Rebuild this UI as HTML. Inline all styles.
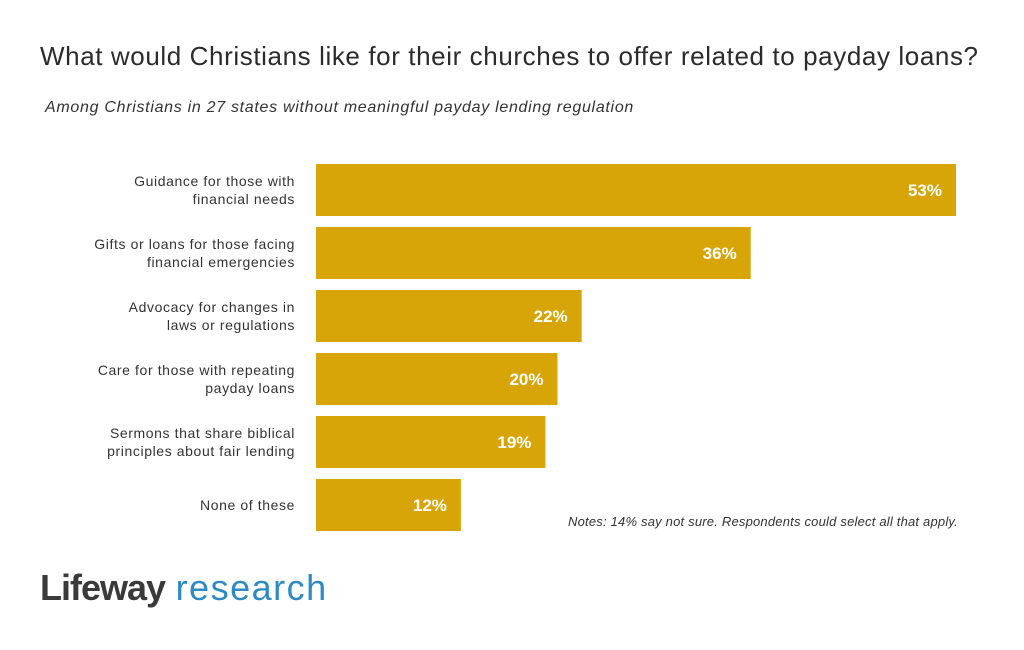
<!DOCTYPE html>
<html><head><meta charset="utf-8"><style>
body{margin:0;width:1024px;height:650px;background:#fff;font-family:"Liberation Sans",sans-serif;overflow:hidden;position:relative}
.t{position:absolute;left:40px;top:41px;font-size:26px;letter-spacing:0.6px;color:#2b2b2b;white-space:nowrap}
.s{position:absolute;left:45px;top:99px;font-size:16px;letter-spacing:0.7px;font-style:italic;color:#333;white-space:nowrap}
.n{position:absolute;left:568px;top:514px;font-size:13px;letter-spacing:0.2px;font-style:italic;color:#333;white-space:nowrap}
.logo{position:absolute;left:40px;top:567px;font-size:36px;letter-spacing:0.5px}
</style></head><body>
<div class="t">What would Christians like for their churches to offer related to payday loans?</div>
<div class="s">Among Christians in 27 states without meaningful payday lending regulation</div>
<svg id="c" width="1024" height="650" style="position:absolute;left:0;top:0"></svg>
<div class="n">Notes: 14% say not sure. Respondents could select all that apply.</div>
<div class="logo"><b style="color:#3a3a3a;letter-spacing:-1px">Lifeway</b> <span style="color:#2f8ac4;letter-spacing:1.5px">research</span></div>
<script>
const categories=[["Guidance for those with","financial needs"],["Gifts or loans for those facing","financial emergencies"],["Advocacy for changes in","laws or regulations"],["Care for those with repeating","payday loans"],["Sermons that share biblical","principles about fair lending"],["None of these"]];
const values=[53,36,22,20,19,12];
const labels=["53%","36%","22%","20%","19%","12%"];
const svg=document.getElementById('c'),NS='http://www.w3.org/2000/svg';
const x0=316,k=640/53,y0=164,step=63,bh=52;
const xs=v=>x0+v*k, ys=i=>y0+i*step;
values.forEach((v,i)=>{
 const r=document.createElementNS(NS,'rect');
 
 
 r.setAttribute('x',x0);r.setAttribute('y',ys(i));r.setAttribute('width',xs(v)-x0);r.setAttribute('height',bh);r.setAttribute('fill','#D8A509');
 svg.appendChild(r);
 const t=document.createElementNS(NS,'text');
 
 
 t.setAttribute('x',xs(v)-14);t.setAttribute('y',ys(i)+bh/2+6);t.setAttribute('text-anchor','end');
 t.setAttribute('fill','#fff');t.setAttribute('font-weight','bold');t.setAttribute('font-size','17');
 t.textContent=labels[i];svg.appendChild(t);
 const c=categories[i];
 c.forEach((line,j)=>{
  const l=document.createElementNS(NS,'text');
  
  
  l.setAttribute('x',295);l.setAttribute('text-anchor','end');l.setAttribute('font-size','14');l.setAttribute('letter-spacing','0.6');l.setAttribute('fill','#333');
  l.setAttribute('y',ys(i)+bh/2+5+(j-(c.length-1)/2)*18);
  l.textContent=line;svg.appendChild(l);
 });
});
</script>
</body></html>
